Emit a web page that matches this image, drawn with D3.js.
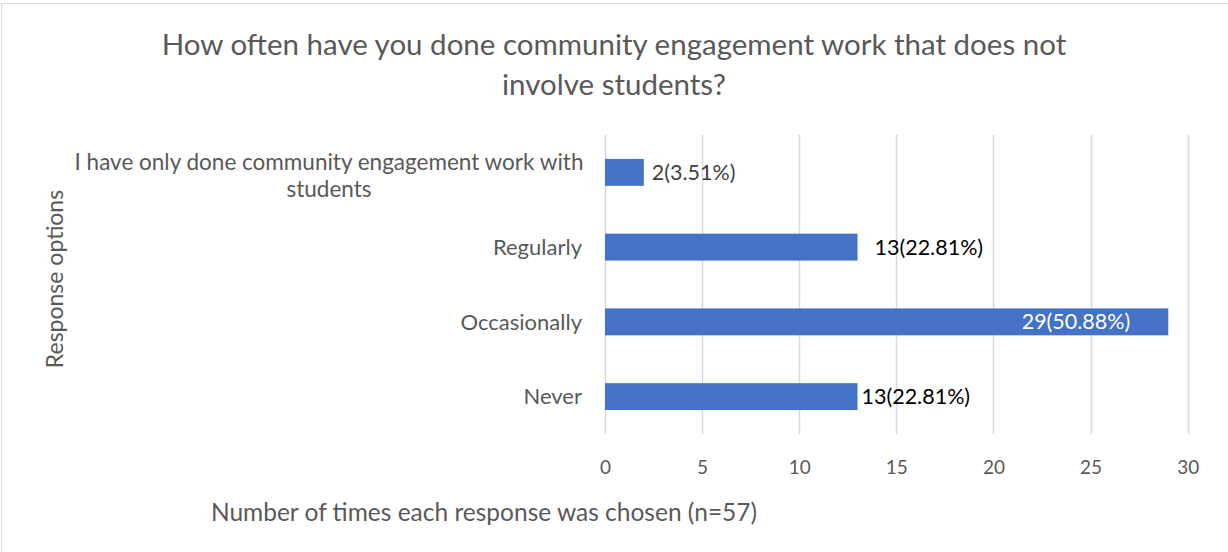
<!DOCTYPE html>
<html>
<head>
<meta charset="utf-8">
<script src="https://cdn.jsdelivr.net/npm/d3@7"></script>
<style>
  body { margin: 0; background: #fff; }
  text { font-family: Lato, "Open Sans", sans-serif; }
</style>
</head>
<body>
<svg id="chart" width="1228" height="552"></svg>
<script>
// categories top to bottom
var categories = ["I have only done community engagement work with students", "Regularly", "Occasionally", "Never"];
var counts = [2, 13, 29, 13];
var percents = ["3.51%", "22.81%", "50.88%", "22.81%"];
var xTicks = [0, 5, 10, 15, 20, 25, 30];
// manual label nudges, like in the original workbook
var labelDx = [8, 17, -38, 4];

var svg = d3.select("#chart"),
    margin = {top: 135, right: 40, bottom: 118, left: 605},
    width = 1187.7 - margin.left,
    height = 434 - margin.top,
    g = svg.append("g").attr("transform", "translate(" + margin.left + "," + margin.top + ")");

// border of the chart area
svg.append("rect")
    .attr("x", 1.5).attr("y", 3.5)
    .attr("width", 1240).attr("height", 560)
    .attr("fill", "none")
    .attr("stroke", "#d9d9d9");

var x = d3.scaleLinear().domain([0, 30]).range([0, width]);
var y = d3.scaleBand().domain(categories).range([0, height]).paddingInner(0.64).paddingOuter(0.32);

/* gridlines */
g.selectAll(".grid")
  .data(xTicks)
  .enter().append("line")
    .attr("class", "grid")
    .attr("x1", function(d) { return Math.round(x(d)) + 0.5; })
    .attr("x2", function(d) { return Math.round(x(d)) + 0.5; })
    .attr("y1", 0)
    .attr("y2", height)
    .attr("stroke", "#d9d9d9")
    .attr("stroke-width", 1.5);

/* x axis */
var xAxis = g.append("g")
    .attr("transform", "translate(0," + height + ")")
    .call(d3.axisBottom(x).tickValues(xTicks).tickSize(0).tickPadding(27));
xAxis.select(".domain").remove();
xAxis.selectAll("text")
    .attr("fill", "#595959")
    .style("font-size", "19px")
    .style("font-family", "Lato, sans-serif");

/* bars */
g.selectAll(".bar")
  .data(categories)
  .enter().append("rect")
    .attr("class", "bar")
    .attr("x", 0)
    .attr("y", function(d) { return y(d); })
    .attr("width", function(d, i) { return x(counts[i]); })
    .attr("height", y.bandwidth())
    .attr("fill", "#4472c4");

/* data labels */
g.selectAll(".label")
  .data(categories)
  .enter().append("text")
    .attr("class", "label")
    .attr("x", function(d, i) { return x(counts[i]) + labelDx[i]; })
    .attr("y", function(d) { return y(d) + y.bandwidth() / 2; })
    .attr("dy", "0.35em")
    .attr("text-anchor", function(d, i) { return labelDx[i] < 0 ? "end" : "start"; })
    .attr("fill", function(d, i) { return labelDx[i] < 0 ? "#fff" : (i == 0 ? "#404040" : "#000"); })
    .style("font-size", "21.5px")
    .text(function(d, i) { return counts[i] + "(" + percents[i] + ")"; });

/* category labels, long one wraps */
var catLabel = g.selectAll(".cat")
  .data(categories)
  .enter().append("text")
    .attr("class", "cat")
    .attr("fill", "#595959")
    .style("font-size", "22px")
    .attr("y", function(d) { return y(d) + y.bandwidth() / 2; });

catLabel.each(function(d) {
  var t = d3.select(this);
  if (d.length > 40) {
    var cut = d.lastIndexOf(" ");
    t.attr("text-anchor", "middle").attr("x", -276).style("font-size", "22.5px");
    t.append("tspan").attr("x", -276).attr("dy", "-0.1em").text(d.slice(0, cut));
    t.append("tspan").attr("x", -276).attr("dy", "1.2em").text(d.slice(cut + 1));
  } else {
    t.attr("text-anchor", "end").attr("x", -23).attr("dy", "0.35em").text(d);
  }
});

/* title */
var title = svg.append("text")
    .attr("text-anchor", "middle")
    .attr("fill", "#595959")
    .style("font-size", "29.5px");
title.append("tspan").attr("x", 614).attr("y", 55).text("How often have you done community engagement work that does not");
title.append("tspan").attr("x", 614).attr("y", 95).text("involve students?");

/* axis titles */
svg.append("text")
    .attr("transform", "translate(63,279) rotate(-90)")
    .attr("text-anchor", "middle")
    .attr("fill", "#595959")
    .style("font-size", "23px")
    .text("Response options");

svg.append("text")
    .attr("x", 484)
    .attr("y", 521)
    .attr("text-anchor", "middle")
    .attr("fill", "#595959")
    .style("font-size", "24.5px")
    .text("Number of times each response was chosen (n=57)");
</script>
</body>
</html>
